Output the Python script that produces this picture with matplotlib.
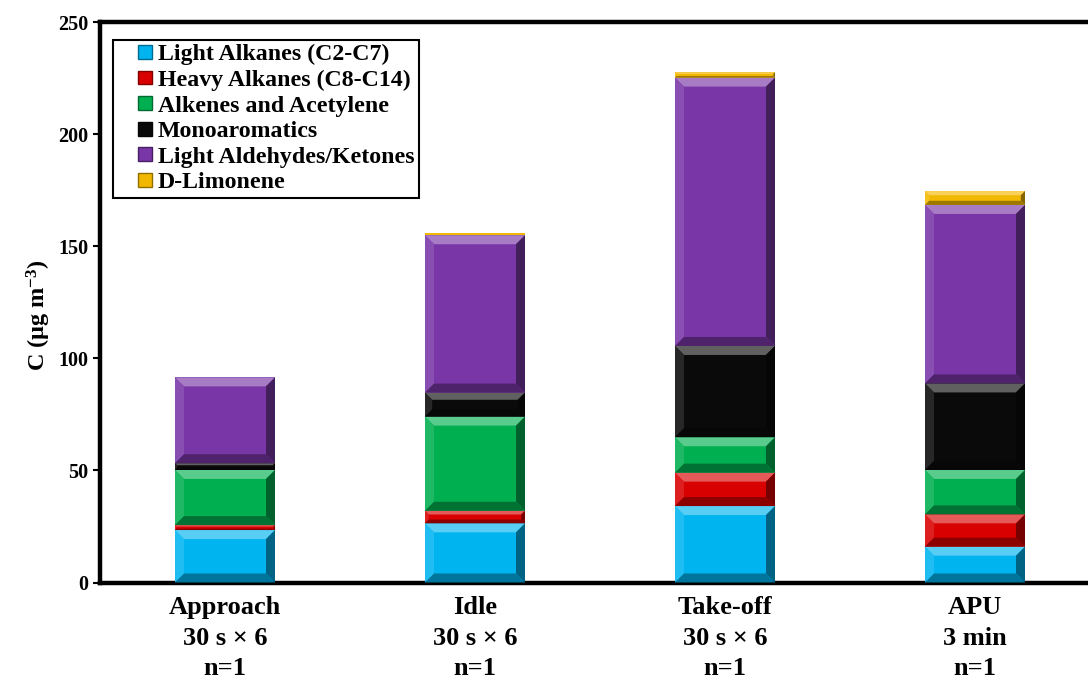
import numpy as np
import matplotlib
matplotlib.use('Agg')
import matplotlib.pyplot as plt
from matplotlib.patches import Polygon, Patch, Rectangle
from matplotlib.legend_handler import HandlerPatch
from matplotlib.colors import to_rgb

plt.rcParams['font.family'] = ['Liberation Serif', 'DejaVu Serif']
plt.rcParams['font.weight'] = 'bold'
plt.rcParams['axes.labelweight'] = 'bold'
plt.rcParams['mathtext.fontset'] = 'custom'
plt.rcParams['mathtext.rm'] = 'Liberation Serif:bold'
plt.rcParams['mathtext.bf'] = 'Liberation Serif:bold'
plt.rcParams['mathtext.default'] = 'bf'

# data (ug m-3)
categories = ['Approach\n30 s \u00d7 6\nn=1', 'Idle\n30 s \u00d7 6\nn=1',
              'Take-off\n30 s \u00d7 6\nn=1', 'APU\n3 min\nn=1']
species = ['Light Alkanes (C2-C7)', 'Heavy Alkanes (C8-C14)', 'Alkenes and Acetylene',
           'Monoaromatics', 'Light Aldehydes/Ketones', 'D-Limonene']
light_alkanes = [23.4, 26.4, 34.1, 16.0]
heavy_alkanes = [2.2, 5.6, 14.9, 14.4]
alkenes = [24.6, 42.0, 15.8, 19.8]
monoaromatics = [3.0, 10.7, 40.7, 38.6]
aldehydes = [38.3, 70.2, 119.7, 79.6]
limonene = [0.0, 0.9, 2.4, 6.2]
colors = ['#00B4F0', '#D80000', '#00B050', '#0A0A0A', '#7836A6', '#F2B800']


def mix(c, other, f):
    c = np.array(to_rgb(c))
    return tuple(c * (1 - f) + np.array(other) * f)


def bevel(ax, x0, x1, y0, y1, color, sx, sy):
    # fake the bevelled look: light top/left, dark bottom/right
    h_px = (y1 - y0) * sy
    b = min(9.0, h_px * 0.3)
    if b < 1.0:
        return
    bx, by = b / sx, b / sy
    white, black = (1, 1, 1), (0, 0, 0)
    faces = [
        ([(x0, y1), (x1, y1), (x1 - bx, y1 - by), (x0 + bx, y1 - by)], mix(color, white, 0.35)),
        ([(x0, y0), (x0 + bx, y0 + by), (x0 + bx, y1 - by), (x0, y1)], mix(color, white, 0.12)),
        ([(x1, y0), (x1, y1), (x1 - bx, y1 - by), (x1 - bx, y0 + by)], mix(color, black, 0.45)),
        ([(x0, y0), (x1, y0), (x1 - bx, y0 + by), (x0 + bx, y0 + by)], mix(color, black, 0.35)),
    ]
    for pts, fc in faces:
        ax.add_patch(Polygon(pts, closed=True, facecolor=fc, edgecolor='none', zorder=3))


def legend_square(legend, orig_handle, xdescent, ydescent, width, height, fontsize):
    # small square drawn at the right end of the handle box
    s = height * 1.0
    return Rectangle((width - s - xdescent, -ydescent + (height - s) / 2), s, s)


fig = plt.figure(figsize=(10.88, 6.78), dpi=100)
ax = fig.add_axes([100 / 1088, 95.5 / 678, 1000 / 1088, 560.5 / 678])

series = [light_alkanes, heavy_alkanes, alkenes, monoaromatics, aldehydes, limonene]
x = np.arange(len(categories))
width = 0.4
ax.set_xlim(-0.5, 3.5)
ax.set_ylim(0, 250)

sx = 1000 / 4.0
sy = 560.5 / 250
bottom = np.zeros(len(categories))
for vals, col in zip(series, colors):
    vals = np.array(vals)
    ax.bar(x, vals, width, bottom=bottom, color=col, edgecolor='none', zorder=2)
    for xi, b0, v in zip(x, bottom, vals):
        if v > 0:
            bevel(ax, xi - width / 2, xi + width / 2, b0, b0 + v, col, sx, sy)
    bottom += vals

ax.set_yticks([0, 50, 100, 150, 200, 250])
ax.set_xticks(x)
ax.set_xticklabels(categories, fontsize=19, linespacing=1.4)
ax.tick_params(axis='x', length=0, pad=10)
ax.tick_params(axis='y', labelsize=14.5, length=5, width=1.5, direction='out')
ax.set_ylabel('C (\u03bcg m$^{-3}$)', fontsize=17.5)
ax.yaxis.set_label_coords(-0.047, 0.477)

for s in ['left', 'bottom', 'top']:
    ax.spines[s].set_linewidth(3.2)
ax.spines['right'].set_visible(False)

handles = [Patch(facecolor=c, edgecolor=mix(c, (0, 0, 0), 0.4), linewidth=1) for c in colors]
leg = ax.legend(handles, species, loc='upper left', bbox_to_anchor=(0.013, 0.968),
                borderaxespad=0, fancybox=False, edgecolor='black', framealpha=1,
                prop={'size': 17.2, 'weight': 'bold'}, handlelength=1.45, handleheight=0.5,
                handletextpad=0.25, labelspacing=0.19, borderpad=0.18,
                handler_map={Patch: HandlerPatch(patch_func=legend_square)})
leg.get_frame().set_linewidth(1.5)

fig.savefig('out.png', dpi=100)
